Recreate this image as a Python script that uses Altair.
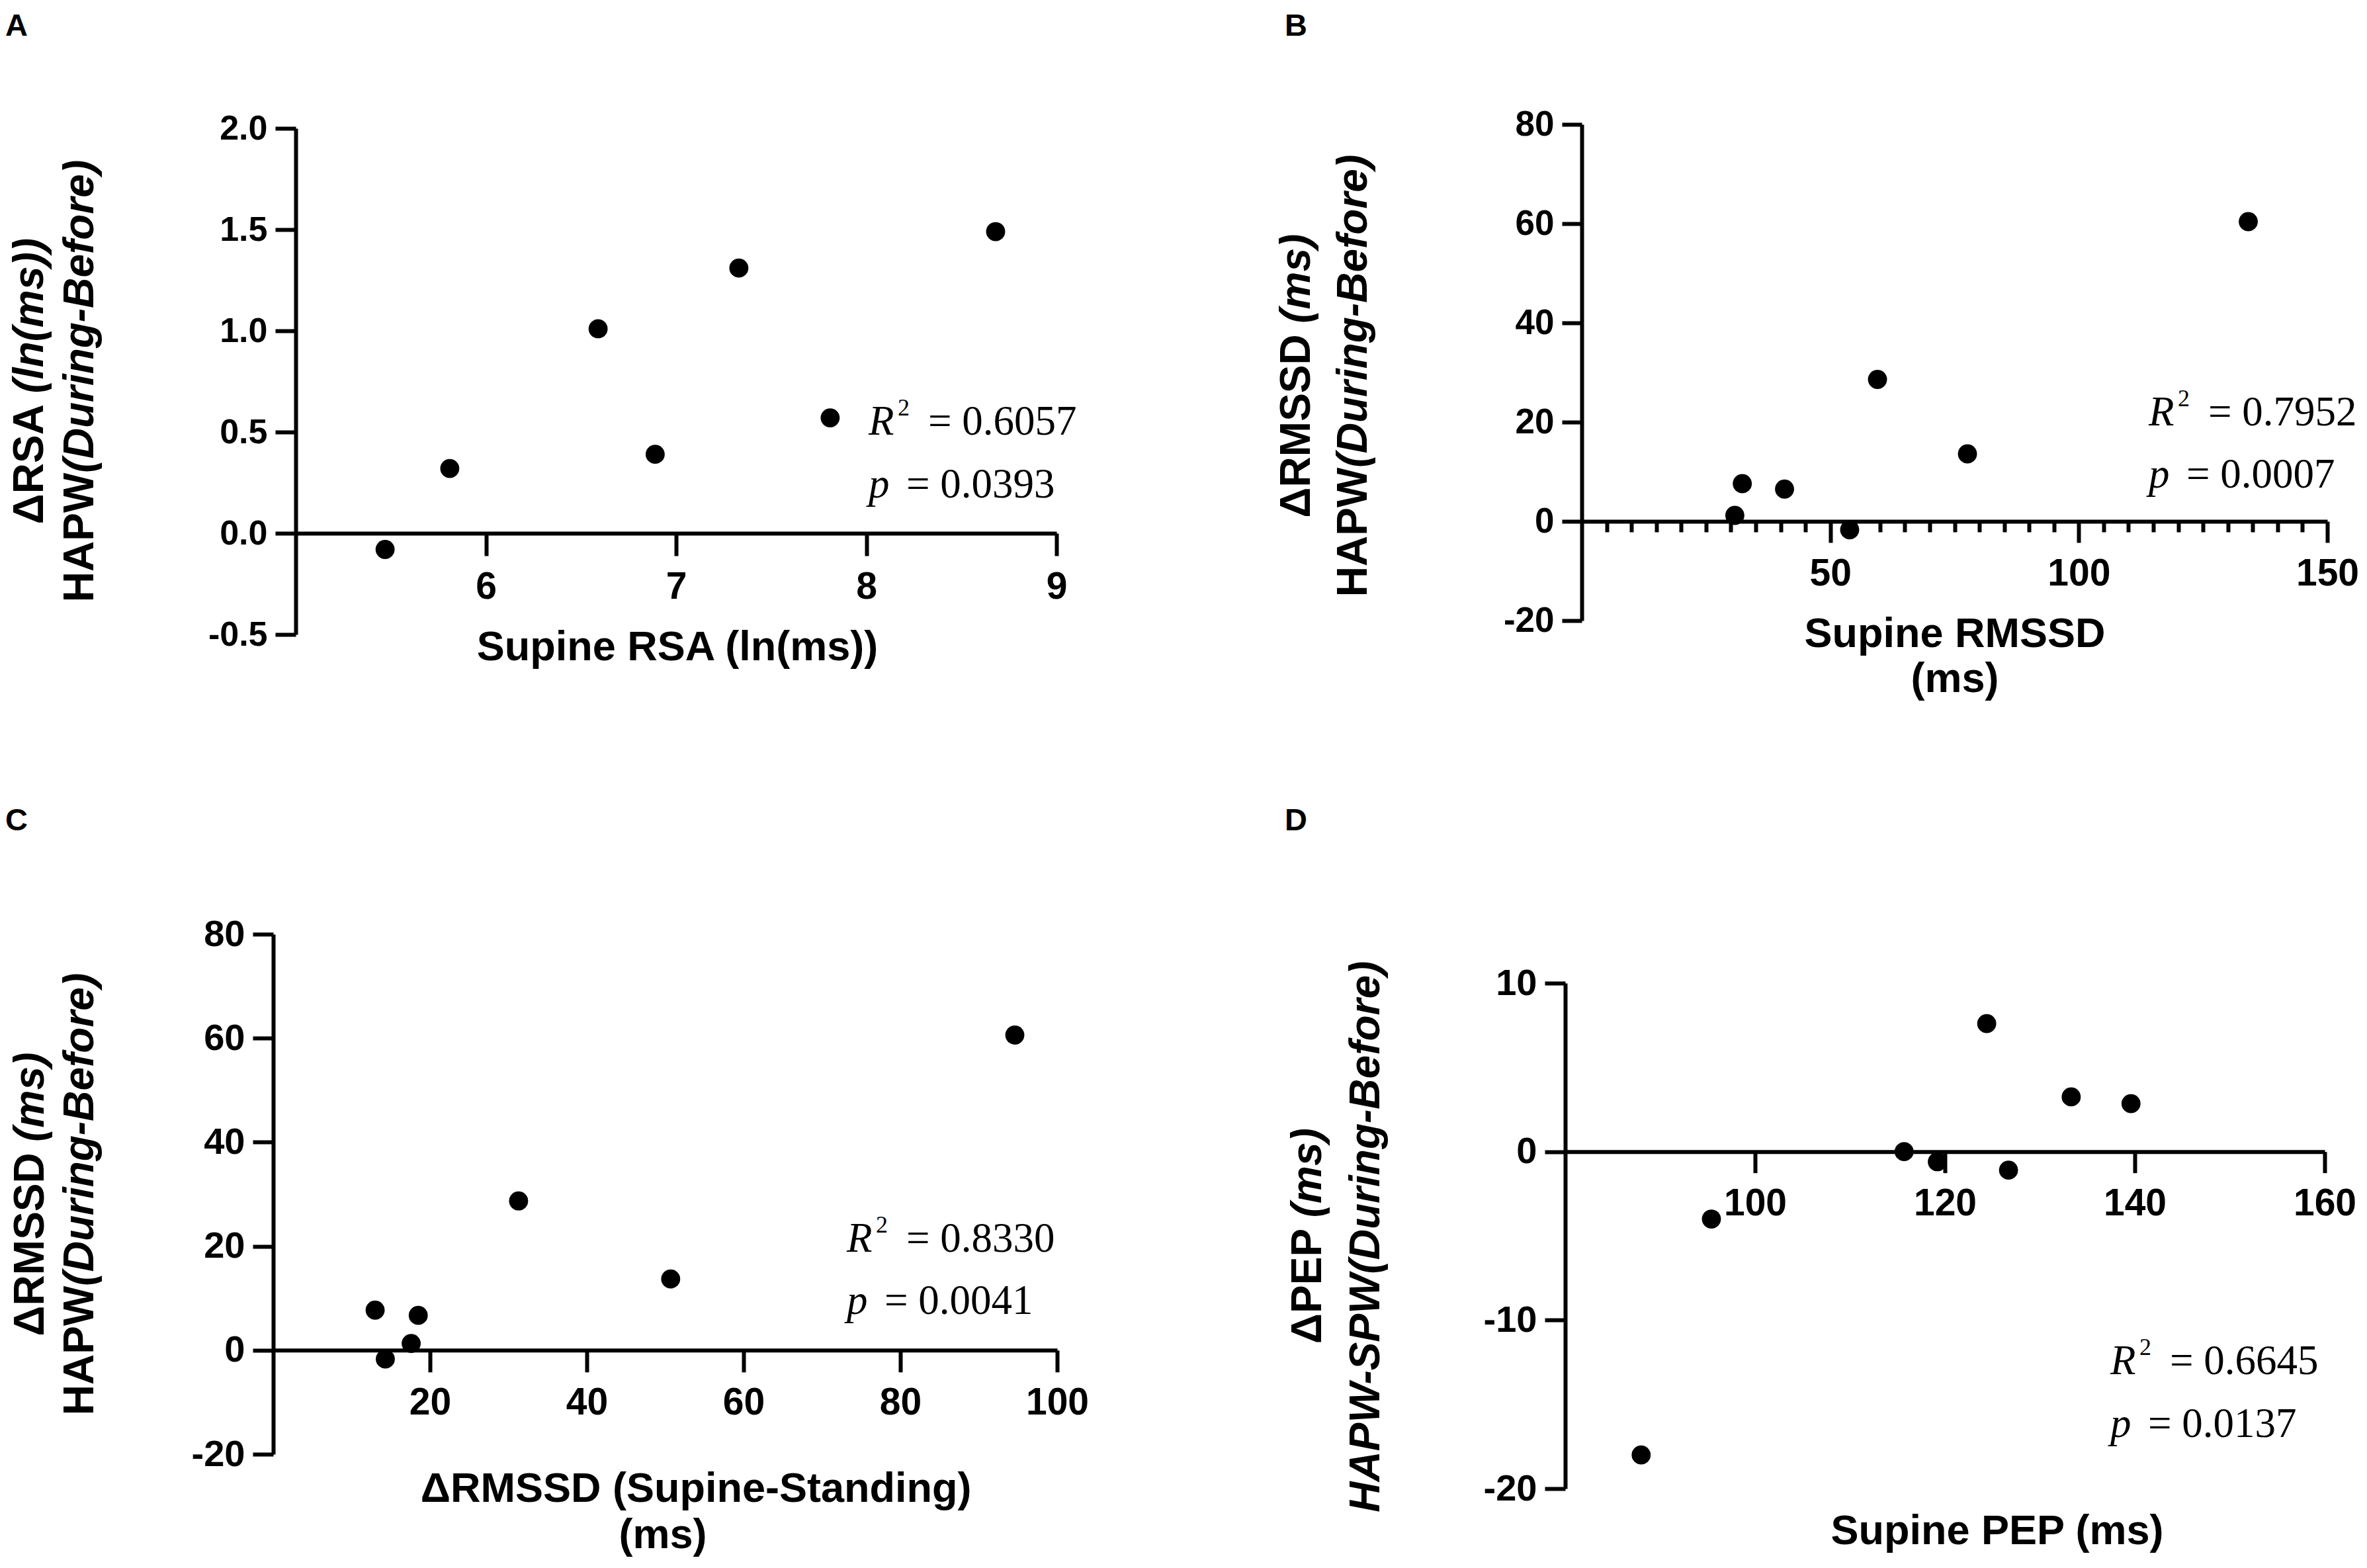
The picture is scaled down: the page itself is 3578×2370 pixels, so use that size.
import altair as alt
import pandas as pd

# ---------------- data ----------------
a_x = [5.47, 5.81, 6.59, 6.89, 7.33, 7.81, 8.68]
a_y = [-0.08, 0.32, 1.01, 0.39, 1.31, 0.57, 1.49]

b_x = [30.8, 32.3, 40.8, 53.9, 59.5, 77.6, 134.1]
b_y = [1.2, 7.6, 6.5, -1.7, 28.6, 13.6, 60.4]

c_x = [13.0, 14.3, 17.6, 18.5, 31.3, 50.7, 94.6]
c_y = [7.7, -1.7, 1.3, 6.7, 28.7, 13.7, 60.6]

d_x = [88.0, 95.4, 115.7, 119.2, 124.4, 126.7, 133.3, 139.6]
d_y = [-18.0, -4.0, 0.0, -0.6, 7.6, -1.1, 3.25, 2.85]

a_xticks = [6, 7, 8, 9]
a_yticks = [-0.5, 0.0, 0.5, 1.0, 1.5, 2.0]
b_xticks = [50, 100, 150]
b_xminor = [5, 10, 15, 20, 25, 30, 35, 40, 45, 55, 60, 65, 70, 75, 80, 85, 90,
            95, 105, 110, 115, 120, 125, 130, 135, 140, 145]
b_yticks = [-20, 0, 20, 40, 60, 80]
c_xticks = [20, 40, 60, 80, 100]
c_yticks = [-20, 0, 20, 40, 60, 80]
d_xticks = [100, 120, 140, 160]
d_yticks = [-20, -10, 0, 10]

panel_letters = ["A", "B", "C", "D"]
r2_values = ["0.6057", "0.7952", "0.8330", "0.6645"]
p_values = ["0.0393", "0.0007", "0.0041", "0.0137"]
x_titles = [["Supine RSA (ln(ms))"],
            ["Supine RMSSD", "(ms)"],
            ["ΔRMSSD (Supine-Standing)", "(ms)"],
            ["Supine PEP (ms)"]]
y_titles = [
    [[("ΔRSA ", False), ("(ln(ms))", True)], [("HAPW", False), ("(During-Before)", True)]],
    [[("ΔRMSSD ", False), ("(ms)", True)], [("HAPW", False), ("(During-Before)", True)]],
    [[("ΔRMSSD ", False), ("(ms)", True)], [("HAPW", False), ("(During-Before)", True)]],
    [[("ΔPEP ", False), ("(ms)", True)], [("HAPW-SPW(During-Before)", True)]],
]

# ---------------- layout (pixels) ----------------
W, H = 3556, 2346
SANS = "Liberation Sans, Arial, Helvetica, sans-serif"
SERIF = "Liberation Serif, Times New Roman, Times, serif"
PT_SIZE = 830
LW = 6

layout = [
    dict(xdom=[5, 9], xrng=[439, 1589], ydom=[-0.5, 2.0], yrng=[951, 186],
         xticks=a_xticks, yticks=a_yticks, yfmt=".1f", ylab=52, xtick=34, ytick=31,
         letter=(0, 46), xtitle=[(1016, 990)], ytitle_x=[57, 133], ytitle_c=568,
         stats=(1305, 649, 744)),
    dict(xdom=[0, 150], xrng=[2383, 3510], ydom=[-20, 80], yrng=[930, 180],
         xticks=b_xticks, yticks=b_yticks, yfmt="d", ylab=53, xtick=32, ytick=30,
         letter=(1934, 46), xtitle=[(2947, 970), (2947, 1038)], ytitle_x=[1972, 2058],
         ytitle_c=560, stats=(3240, 635, 729)),
    dict(xdom=[0, 100], xrng=[405, 1590], ydom=[-20, 80], yrng=[2190, 1404],
         xticks=c_xticks, yticks=c_yticks, yfmt="d", ylab=56, xtick=33, ytick=31,
         letter=(0, 1247), xtitle=[(1044, 2262), (994, 2332)], ytitle_x=[58, 133],
         ytitle_c=1797, stats=(1272, 1884, 1978)),
    dict(xdom=[80, 160], xrng=[2358, 3506], ydom=[-20, 10], yrng=[2242, 1478],
         xticks=d_xticks, yticks=d_yticks, yfmt="d", ylab=56, xtick=32, ytick=31,
         letter=(1934, 1247), xtitle=[(3011, 2326)], ytitle_x=[1989, 2077],
         ytitle_c=1860, stats=(3182, 2069, 2164)),
]
series = [(a_x, a_y), (b_x, b_y), (c_x, c_y), (d_x, d_y)]

MINUS_FIX = "replace(datum.label, '\u2212', '-')"


def zero_px(L):
    y0, y1 = L["ydom"]
    b, t = L["yrng"]
    return b + (0 - y0) / (y1 - y0) * (t - b)


def axis_common(**kw):
    base = dict(grid=False, title=None, tickWidth=LW, domainWidth=LW,
                tickColor="black", domainColor="black", labelColor="black",
                labelFont=SANS, labelFontWeight="bold", labelFlush=False,
                labelOverlap=False)
    base.update(kw)
    return alt.Axis(**base)


layers = []
for i, L in enumerate(layout):
    xs, ys = series[i]
    df = pd.DataFrame({"x": xs, "y": ys})
    xscale = alt.Scale(domain=L["xdom"], range=L["xrng"], nice=False, zero=False)
    yscale = alt.Scale(domain=L["ydom"], range=L["yrng"], nice=False, zero=False)
    xaxis = axis_common(values=L["xticks"], orient="bottom", offset=zero_px(L) - H,
                        tickSize=L["xtick"], labelFontSize=57, labelPadding=19)
    yaxis = axis_common(values=L["yticks"], orient="left", offset=-L["xrng"][0],
                        tickSize=L["ytick"], labelFontSize=L["ylab"], labelPadding=12,
                        format=L["yfmt"], labelExpr=MINUS_FIX)
    layers.append(
        alt.Chart(df).mark_circle(size=PT_SIZE, color="black", opacity=1).encode(
            x=alt.X("x:Q", scale=xscale, axis=xaxis),
            y=alt.Y("y:Q", scale=yscale, axis=yaxis),
        )
    )
    if i == 1:
        minor_axis = alt.Axis(values=b_xminor, orient="bottom", offset=zero_px(L) - H,
                              tickSize=16, tickWidth=LW, tickColor="black", labels=False,
                              domain=False, grid=False, title=None)
        layers.append(
            alt.Chart(df).mark_circle(opacity=0).encode(
                x=alt.X("x:Q", scale=xscale, axis=minor_axis)
            )
        )

# ---------------- text pieces ----------------
AW = {' ': 0.278, '(': 0.333, ')': 0.333, '-': 0.333, 'A': 0.722, 'B': 0.722,
      'D': 0.722, 'E': 0.667, 'H': 0.722, 'M': 0.833, 'P': 0.667, 'R': 0.722,
      'S': 0.667, 'W': 0.944, 'a': 0.556, 'e': 0.556, 'f': 0.333, 'g': 0.611,
      'i': 0.278, 'l': 0.278, 'm': 0.889, 'n': 0.611, 'o': 0.611, 'r': 0.389,
      's': 0.556, 'u': 0.611, 'Δ': 0.70}
YT_FS = 64


def tw(s, fs):
    return sum(AW.get(c, 0.6) for c in s) * fs


letters, xtitle_rows, yt_up, yt_it = [], [], [], []
st_it, st_up, st_sup = [], [], []
for i, L in enumerate(layout):
    letters.append(dict(px=L["letter"][0], py=L["letter"][1], t=panel_letters[i]))
    for (px, py), t in zip(L["xtitle"], x_titles[i]):
        xtitle_rows.append(dict(px=px, py=py, t=t))
    for xb, segs in zip(L["ytitle_x"], y_titles[i]):
        total = sum(tw(s, YT_FS) for s, _ in segs)
        cur = L["ytitle_c"] + total / 2
        for s, it in segs:
            (yt_it if it else yt_up).append(dict(px=xb, py=cur, t=s.strip()))
            cur -= tw(s, YT_FS)
    sx, ry, py_ = L["stats"]
    st_it.append(dict(px=sx, py=ry, t="R"))
    st_sup.append(dict(px=sx + 44, py=ry - 29, t="2"))
    st_up.append(dict(px=sx + 90, py=ry, t="= " + r2_values[i]))
    st_it.append(dict(px=sx, py=py_, t="p"))
    st_up.append(dict(px=sx + 57, py=py_, t="= " + p_values[i]))


def text_layer(rows, **mark):
    df = pd.DataFrame(rows)
    return alt.Chart(df).mark_text(color="black", baseline="alphabetic", **mark).encode(
        x=alt.X("px:Q", scale=None, axis=None),
        y=alt.Y("py:Q", scale=None, axis=None),
        text=alt.Text("t:N"),
    )


layers += [
    text_layer(letters, font=SANS, fontSize=47, fontWeight="bold", align="left"),
    text_layer(xtitle_rows, font=SANS, fontSize=63, fontWeight="bold", align="center"),
    text_layer(yt_up, font=SANS, fontSize=YT_FS, fontWeight="bold", align="left", angle=270),
    text_layer(yt_it, font=SANS, fontSize=YT_FS, fontWeight="bold", fontStyle="italic",
               align="left", angle=270),
    text_layer(st_it, font=SERIF, fontSize=63, fontStyle="italic", align="left"),
    text_layer(st_up, font=SERIF, fontSize=63, align="left"),
    text_layer(st_sup, font=SERIF, fontSize=36, align="left"),
]

chart = (
    alt.layer(*layers)
    .resolve_scale(x="independent", y="independent")
    .resolve_axis(x="independent", y="independent")
    .properties(width=W, height=H, padding=0,
                autosize=alt.AutoSizeParams(type="pad"), background="white")
    .configure_view(stroke=None)
)

chart.save("out.html", embed_options={"renderer": "svg", "actions": False})
